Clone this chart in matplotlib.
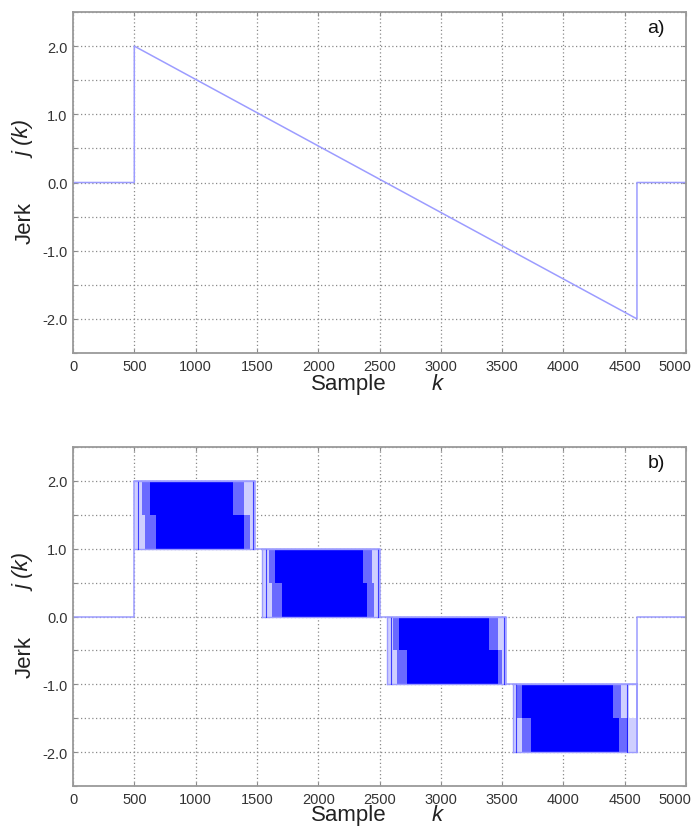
import numpy as np
import matplotlib
matplotlib.use("Agg")
import matplotlib.pyplot as plt
import matplotlib.transforms as mtransforms

plt.rcParams["font.family"] = ["Liberation Sans", "DejaVu Sans"]

# ---- panel a: continuous jerk profile j(k) ----
ramp_k = [0, 500, 500, 4600, 4600, 5000]
ramp_j = [0.0, 0.0, 2.0, -2.0, 0.0, 0.0]

# ---- panel b: quantised jerk, each band switches between two levels ----
band_lo = [1.0, 0.0, -1.0, -2.0]
band_hi = [2.0, 1.0, 0.0, -1.0]
band_start = [500, 1545, 2560, 3590]
band_end = [1485, 2505, 3530, 4600]
# upper half of each band (dense switching region and its sparse edges)
upper_solid_start = [625, 1650, 2660, 3660]
upper_solid_end = [1305, 2365, 3395, 4405]
upper_fringe_end = [1485, 2505, 3530, 4535]
# lower half of each band
lower_solid_start = [680, 1705, 2725, 3735]
lower_solid_end = [1395, 2400, 3465, 4455]
lower_fringe_end = [1485, 2505, 3530, 4600]
# isolated switching lines at the band edges
edge_lines_k = [530, 1575, 2590, 3615, 1470, 2490, 3515, 4520]
edge_lines_band = [0, 1, 2, 3, 0, 1, 2, 3]

x_ticks = [0, 500, 1000, 1500, 2000, 2500, 3000, 3500, 4000, 4500, 5000]
y_ticks = [-2.5, -2.0, -1.5, -1.0, -0.5, 0.0, 0.5, 1.0, 1.5, 2.0, 2.5]
y_labels = ["", "-2.0", "", "-1.0", "", "0.0", "", "1.0", "", "2.0", ""]

LIGHT = "#9c9cff"
SOLID = "#0000ff"
PALE = "#cfcfff"
MID = "#6a6aff"

W, H = 696, 828
fig = plt.figure(figsize=(W / 100, H / 100), dpi=100)


def px_box(left, top, right, bottom):
    return [left / W, 1 - bottom / H, (right - left) / W, (bottom - top) / H]


def style_axes(ax, tag):
    ax.set_xlim(0, 5000)
    ax.set_ylim(-2.5, 2.5)
    ax.set_xticks(x_ticks)
    ax.set_xticklabels([str(v) for v in x_ticks])
    ax.set_yticks(y_ticks)
    ax.set_yticklabels(y_labels)
    ax.grid(True, linestyle=(0, (1, 2)), color="#8a8a8a", linewidth=0.9)
    ax.set_axisbelow(True)
    ax.tick_params(direction="in", length=3, width=0.8, color="#8a8a8a",
                   labelsize=10.5, labelcolor="#333333", pad=4,
                   top=True, right=True)
    for s in ax.spines.values():
        s.set_color("#9a9a9a")
        s.set_linewidth(1.3)
    # keep the last x label inside the figure
    last = ax.get_xticklabels()[-1]
    last.set_horizontalalignment("right")
    last.set_transform(last.get_transform() + mtransforms.ScaledTranslation(
        0.05, 0, fig.dpi_scale_trans))
    ax.text((665 - 73) / 613, 0.98, tag, transform=ax.transAxes, ha="right",
            va="top", fontsize=14, color="#111111")


def axis_titles(y_center_jk, y_center_jerk, y_sample_base):
    fig.text(25 / W, 1 - y_center_jk / H, "j (k)", rotation=90, style="italic",
             ha="center", va="center", fontsize=16, color="#222222")
    fig.text(25 / W, 1 - y_center_jerk / H, "Jerk", rotation=90,
             ha="center", va="center", fontsize=16, color="#222222")
    fig.text(349 / W, 1 - y_sample_base / H, "Sample", ha="center",
             va="baseline", fontsize=16, color="#222222")
    fig.text(437 / W, 1 - y_sample_base / H, "k", style="italic", ha="center",
             va="baseline", fontsize=16, color="#222222")


# ---------------- panel a ----------------
ax1 = fig.add_axes(px_box(73, 13, 686, 354))
style_axes(ax1, "a)")
ax1.plot(ramp_k, ramp_j, color=LIGHT, linewidth=1.1)
axis_titles(139, 223, 390)

# ---------------- panel b ----------------
ax2 = fig.add_axes(px_box(73, 448, 686, 787))
style_axes(ax2, "b)")

for i in range(len(band_lo)):
    lo, hi = band_lo[i], band_hi[i]
    mid = (lo + hi) / 2
    halves = [
        (mid, hi, upper_solid_start[i], upper_solid_end[i], upper_fringe_end[i]),
        (lo, mid, lower_solid_start[i], lower_solid_end[i], lower_fringe_end[i]),
    ]
    for y0, y1, s0, s1, f1 in halves:
        # sparse switching at the edges of the band
        ax2.fill_between([band_start[i], s0], y0, y1, color=PALE, linewidth=0)
        ax2.fill_between([(band_start[i] + s0) / 2, s0], y0, y1, color=MID,
                         linewidth=0)
        ax2.fill_between([s1, f1], y0, y1, color=PALE, linewidth=0)
        ax2.fill_between([s1, (s1 + f1) / 2], y0, y1, color=MID, linewidth=0)
        # dense switching core
        ax2.fill_between([s0, s1], y0, y1, color=SOLID, linewidth=0)
    # level lines at the top and bottom of the band
    ax2.plot([band_start[i], band_end[i]], [hi, hi], color=LIGHT, linewidth=1.0)
    ax2.plot([band_start[i], band_end[i]], [lo, lo], color=LIGHT, linewidth=1.0)

for k, b in zip(edge_lines_k, edge_lines_band):
    ax2.plot([k, k], [band_lo[b], band_hi[b]], color=SOLID, linewidth=0.8,
             alpha=0.7)

# outline of the quantised signal: rest, band transitions, rest
out_k = [0, band_start[0], band_start[0]]
out_j = [0.0, 0.0, band_hi[0]]
for i in range(len(band_lo)):
    nxt = band_start[i + 1] if i + 1 < len(band_lo) else band_end[i]
    out_k += [band_end[i], band_end[i], nxt]
    out_j += [band_hi[i], band_lo[i], band_lo[i]]
out_k += [band_end[-1], 5000]
out_j += [0.0, 0.0]
ax2.plot(out_k, out_j, color=LIGHT, linewidth=1.1)
for i in range(1, len(band_lo)):
    ax2.plot([band_start[i], band_start[i]], [band_lo[i], band_hi[i]],
             color=LIGHT, linewidth=1.0)

axis_titles(573, 657, 821)

fig.savefig("out.png", dpi=100)
